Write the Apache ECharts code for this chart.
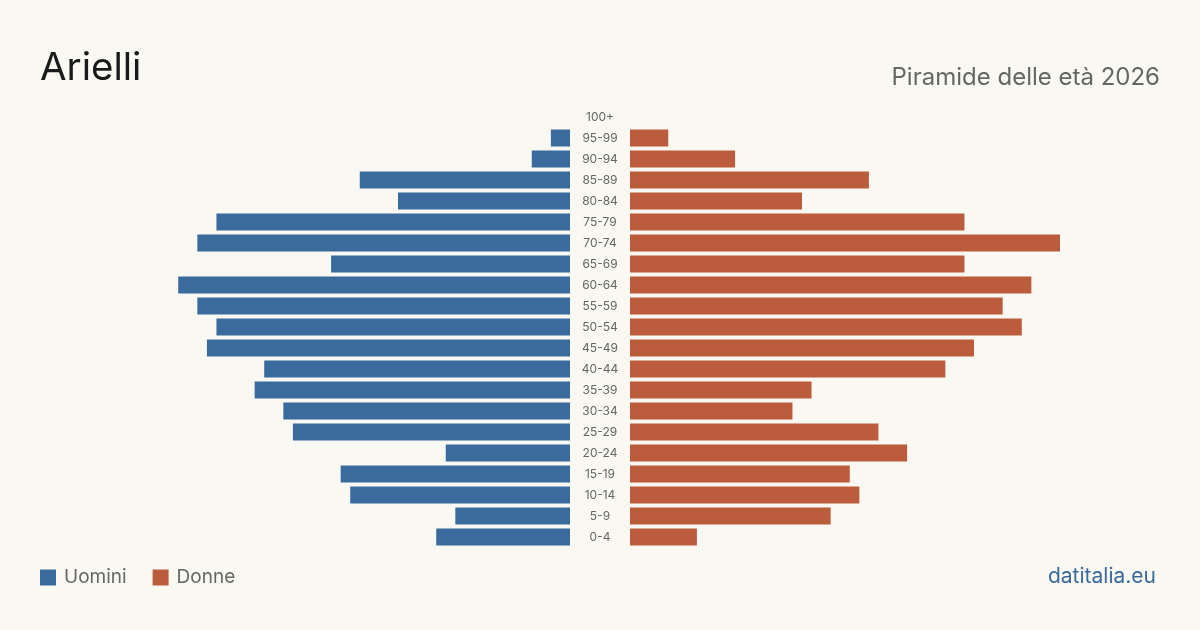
<!DOCTYPE html>
<html>
<head>
<meta charset="utf-8">
<script src="https://cdn.jsdelivr.net/npm/echarts@6/dist/echarts.min.js"></script>
<style>
html,body{margin:0;padding:0;background:#f9f8f3;}
#c{width:1200px;height:630px;}
</style>
</head>
<body>
<div id="c"></div>
<script>
const ageGroups = ['0-4','5-9','10-14','15-19','20-24','25-29','30-34','35-39','40-44','45-49','50-54','55-59','60-64','65-69','70-74','75-79','80-84','85-89','90-94','95-99','100+'];
const men   = [14,12,23,24,13,29,30,33,32,38,37,39,41,25,39,37,18,22,4,2,0];
const women = [7,21,24,23,29,26,17,19,33,36,41,39,42,35,45,35,18,25,11,4,0];
const axisMax = 45;

const BLUE = '#3a6b9c', ORANGE = '#bb5c3c', GRAY = '#666666';
const FONT = 'Inter, "Noto Sans", sans-serif';

const chart = echarts.init(document.getElementById('c'), null, {renderer:'canvas'});
chart.setOption({
  backgroundColor: '#f9f8f3',
  animation: false,
  title: [
    {text:'Arielli', left:35, top:44, textStyle:{fontFamily:FONT, fontSize:38.5, fontWeight:'normal', color:'#1a1a1a'}},
    {text:'Piramide delle età 2026', right:35, top:61, textStyle:{fontFamily:FONT, fontSize:24, fontWeight:'normal', color:GRAY}},
    {text:'datitalia.eu', right:39, top:561, textStyle:{fontFamily:FONT, fontSize:21, fontWeight:'normal', color:BLUE}}
  ],
  legend: {
    left: 40, top: 568, padding:0, itemWidth:16, itemHeight:16, itemGap:26, icon:'rect',
    data:['Uomini','Donne'],
    textStyle:{fontFamily:FONT, fontSize:19, color:GRAY, padding:[0,0,0,3]}
  },
  grid: [
    {left:140, width:430, top:106.5, height:441},
    {left:630, width:430, top:106.5, height:441}
  ],
  xAxis: [
    {gridIndex:0, type:'value', min:0, max:axisMax, inverse:true, show:false},
    {gridIndex:1, type:'value', min:0, max:axisMax, show:false}
  ],
  yAxis: [
    {gridIndex:0, type:'category', data:ageGroups, show:false},
    {gridIndex:1, type:'category', data:ageGroups, position:'left',
     axisLine:{show:false}, axisTick:{show:false}, splitLine:{show:false},
     axisLabel:{show:true, margin:30, align:'center', fontFamily:FONT, fontSize:12, color:GRAY}}
  ],
  series: [
    {name:'Uomini', type:'bar', xAxisIndex:0, yAxisIndex:0, data:men, barWidth:17, itemStyle:{color:BLUE}},
    {name:'Donne', type:'bar', xAxisIndex:1, yAxisIndex:1, data:women, barWidth:17, itemStyle:{color:ORANGE}}
  ]
});
</script>
</body>
</html>
